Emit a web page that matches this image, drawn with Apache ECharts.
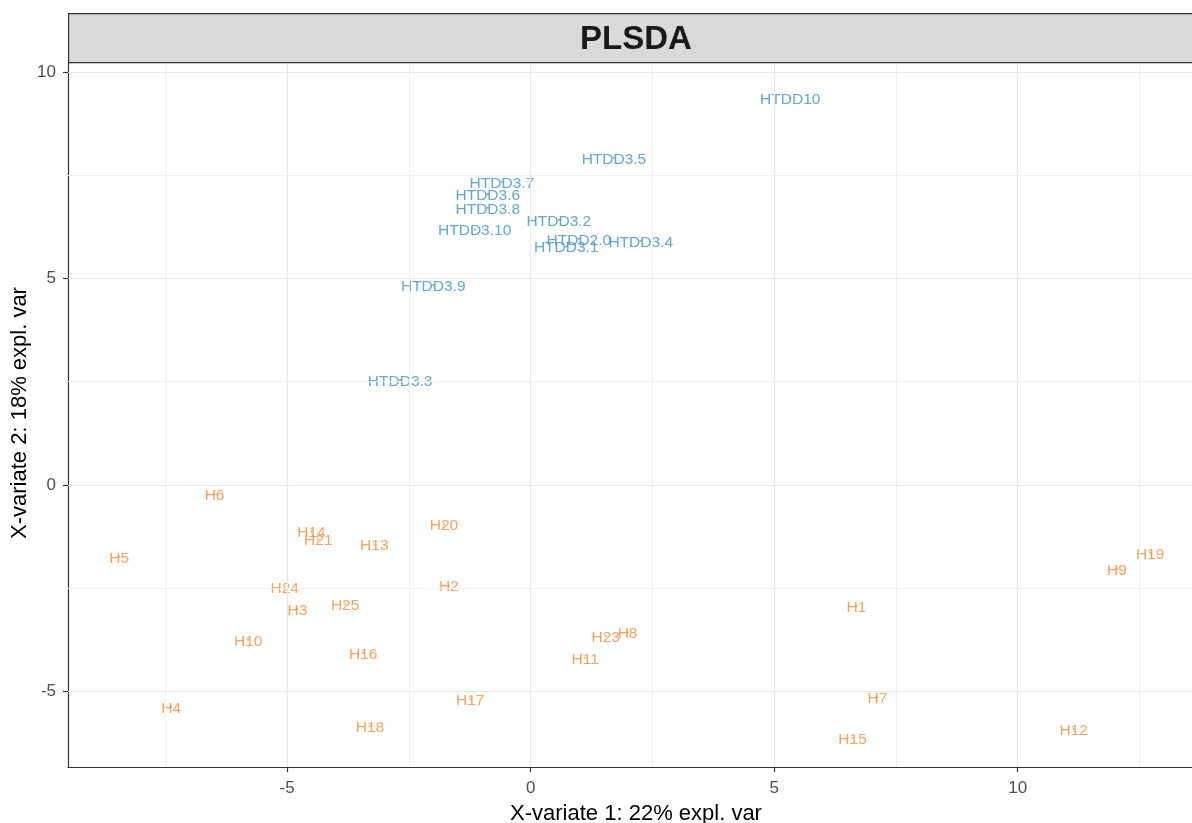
<!DOCTYPE html>
<html>
<head>
<meta charset="utf-8">
<script src="https://cdn.jsdelivr.net/npm/echarts@6/dist/echarts.min.js"></script>
<style>
  html, body { margin: 0; padding: 0; background: #ffffff; }
  #chart { width: 1192px; height: 823px; }
</style>
</head>
<body>
<div id="chart"></div>
<script>
// Sample scores on the first two PLS-DA components
const htddNames = ['HTDD10', 'HTDD3.5', 'HTDD3.7', 'HTDD3.6', 'HTDD3.8', 'HTDD3.2',
  'HTDD3.10', 'HTDD2.0', 'HTDD3.4', 'HTDD3.1', 'HTDD3.9', 'HTDD3.3'];
const htddX = [5.33, 1.71, -0.59, -0.88, -0.88, 0.58, -1.15, 0.99, 2.26, 0.73, -2.00, -2.68];
const htddY = [9.37, 7.92, 7.34, 7.04, 6.71, 6.42, 6.18, 5.96, 5.91, 5.77, 4.84, 2.54];

const hNames = ['H6', 'H5', 'H14', 'H21', 'H13', 'H20', 'H24', 'H2', 'H3', 'H25', 'H10', 'H16',
  'H4', 'H18', 'H17', 'H23', 'H8', 'H11', 'H1', 'H7', 'H15', 'H12', 'H9', 'H19'];
const hX = [-6.49, -8.45, -4.50, -4.36, -3.21, -1.78, -5.05, -1.68, -4.79, -3.81, -5.80, -3.44,
  -7.38, -3.30, -1.24, 1.54, 1.99, 1.12, 6.69, 7.12, 6.61, 11.15, 12.04, 12.72];
const hY = [-0.22, -1.74, -1.13, -1.32, -1.44, -0.95, -2.47, -2.44, -3.00, -2.89, -3.75, -4.07,
  -5.38, -5.84, -5.19, -3.66, -3.57, -4.19, -2.93, -5.15, -6.13, -5.91, -2.03, -1.65];

// Axis ticks and guide lines
const xTicks = [-5, 0, 5, 10];
const yTicks = [-5, 0, 5, 10];
const xMinor = [-7.5, -2.5, 2.5, 7.5, 12.5];
const yMinor = [-2.5, 2.5, 7.5];

const xTitle = 'X-variate 1: 22% expl. var';
const yTitle = 'X-variate 2: 18% expl. var';
const panelTitle = 'PLSDA';

const BLUE = '#388ECC';
const ORANGE = '#F68B33';
const FONT = '"Liberation Sans", Arial, sans-serif';

// The panel runs past the right edge of the page; its centre sits at x = 636
const PANEL_LEFT = 68, PANEL_TOP = 62, PANEL_BOTTOM = 56, PANEL_FULL_W = 1136;
const PANEL_MID = PANEL_LEFT + PANEL_FULL_W / 2;

function zip(names, xs, ys) {
  return names.map((n, i) => ({ name: n, value: [xs[i], ys[i]] }));
}

function guideLines(major, minor, key) {
  const lines = [];
  minor.forEach(v => lines.push({ [key]: v, lineStyle: { color: '#efefef', width: 1, type: 'solid' } }));
  major.forEach(v => lines.push({ [key]: v, lineStyle: { color: '#e8e8e8', width: 1.2, type: 'solid' } }));
  return lines;
}

function labelSeries(name, data, color) {
  return {
    name: name,
    type: 'scatter',
    data: data,
    symbol: 'circle',
    symbolSize: 2,
    itemStyle: { color: color },
    label: {
      show: true,
      position: 'inside',
      offset: [0, 1.5],
      formatter: p => p.name,
      color: color,
      fontSize: 15.5,
      fontFamily: FONT
    },
    z: 3
  };
}

const chart = echarts.init(document.getElementById('chart'), null, { renderer: 'canvas' });

const axisLabelStyle = { color: '#4d4d4d', fontSize: 17, fontFamily: FONT };

chart.setOption({
  backgroundColor: '#ffffff',
  animation: false,
  grid: { left: PANEL_LEFT, top: PANEL_TOP, right: 0, bottom: PANEL_BOTTOM, containLabel: false },
  xAxis: {
    type: 'value',
    min: -9.5,
    max: 13.58,
    axisLine: { show: true, onZero: false, lineStyle: { color: '#333333', width: 1.2 } },
    axisTick: { show: true, length: 5, customValues: xTicks, lineStyle: { color: '#333333', width: 1.2 } },
    axisLabel: { show: true, customValues: xTicks, margin: 13, ...axisLabelStyle },
    splitLine: { show: false }
  },
  yAxis: {
    type: 'value',
    min: -6.83,
    max: 10.24,
    axisLine: { show: true, onZero: false, lineStyle: { color: '#333333', width: 1.2 } },
    axisTick: { show: true, length: 5, customValues: yTicks, lineStyle: { color: '#333333', width: 1.2 } },
    axisLabel: { show: true, customValues: yTicks, margin: 12, ...axisLabelStyle },
    splitLine: { show: false }
  },
  graphic: [
    {
      type: 'rect',
      left: PANEL_LEFT,
      top: 13,
      shape: { width: PANEL_FULL_W, height: PANEL_TOP - 13 },
      style: { fill: '#d9d9d9', stroke: '#333333', lineWidth: 1.2 },
      z: 10
    },
    {
      type: 'text',
      x: PANEL_MID,
      y: 40,
      style: {
        text: panelTitle,
        fill: '#1a1a1a',
        font: 'bold 33px ' + FONT,
        textAlign: 'center',
        textVerticalAlign: 'middle'
      },
      z: 11
    },
    {
      type: 'text',
      x: PANEL_MID,
      y: 814,
      style: {
        text: xTitle,
        fill: '#000000',
        font: '22px ' + FONT,
        textAlign: 'center',
        textVerticalAlign: 'middle'
      }
    },
    {
      type: 'text',
      x: 20,
      y: 413,
      rotation: Math.PI / 2,
      style: {
        text: yTitle,
        fill: '#000000',
        font: '22px ' + FONT,
        textAlign: 'center',
        textVerticalAlign: 'middle'
      }
    }
  ],
  series: [
    {
      type: 'scatter',
      data: [],
      silent: true,
      markLine: {
        silent: true,
        symbol: ['none', 'none'],
        label: { show: false },
        animation: false,
        data: guideLines(xTicks, xMinor, 'xAxis').concat(guideLines(yTicks, yMinor, 'yAxis'))
      },
      z: 1
    },
    labelSeries('HTDD', zip(htddNames, htddX, htddY), BLUE),
    labelSeries('H', zip(hNames, hX, hY), ORANGE)
  ]
});
</script>
</body>
</html>
